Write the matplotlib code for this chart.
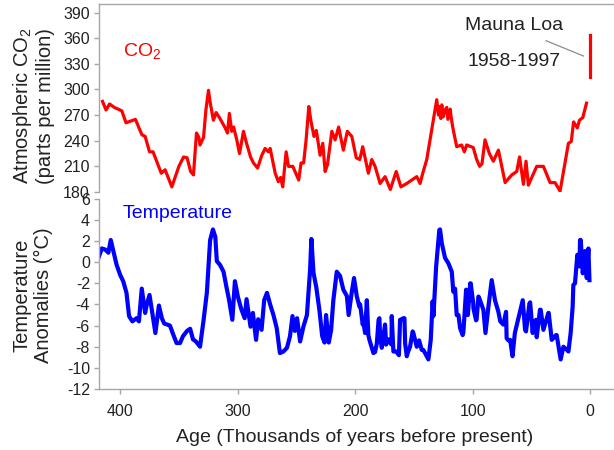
import matplotlib
matplotlib.use("Agg")
import numpy as np
import matplotlib.pyplot as plt
from matplotlib.lines import Line2D

plt.rcParams['font.family'] = ['Liberation Sans', 'DejaVu Sans']
plt.rcParams['mathtext.fontset'] = 'custom'
plt.rcParams['mathtext.rm'] = 'Liberation Sans'
plt.rcParams['mathtext.it'] = 'Liberation Sans'
plt.rcParams['mathtext.bf'] = 'Liberation Sans'
plt.rcParams['axes.unicode_minus'] = False

# ---------------- data ----------------
co2_age = [415, 412, 409, 405, 398.6, 395, 387, 381.5, 378.7, 375, 372, 365, 361.7, 356,
           350, 346, 343, 340, 337.6, 335, 333, 332, 329, 327, 324.8, 323.4, 320.6, 318.3,
           315, 310.6, 308.6, 307, 305, 303.4, 300.7, 298.4, 295, 292.8, 289, 286.5, 283,
           279.4, 276.6, 273.8, 272.3, 268, 265.3, 263.4, 261.6, 258.7, 256.7, 253, 248,
           246, 243.8, 241.7, 239.4, 237.7, 235, 233, 229.8, 227.5, 225.5, 223.5, 219.8,
           217, 214, 210, 206.6, 202.8, 199, 196, 193.5, 190.6, 188.7, 185.8, 183, 178.7,
           174.5, 170, 165, 161, 156, 147.5, 144.7, 142.4, 139, 130.5, 129, 128, 127,
           126.2, 125, 123.4, 122, 121, 119, 118.5, 116.9, 113.5, 109.3, 107, 105, 99.4,
           96.5, 94, 92, 89.4, 85.7, 82.3, 78, 72.3, 66.6, 62.4, 60, 56.7, 54.5, 52.5,
           45.4, 39.7, 34, 29.8, 25.5, 18.4, 16, 14, 10.8, 9, 6.2, 3]
co2_ppm = [286, 276, 283, 279, 275, 261, 265, 247, 245, 227, 227, 202, 206, 186,
           210, 221, 220, 204, 200, 249, 244, 235, 244, 276, 299, 285, 264, 273,
           266, 255, 249, 272, 251, 256, 241, 225, 251, 239, 221, 214, 208,
           223, 231, 227, 231, 202, 192, 197, 186, 227, 210, 210, 194,
           214, 214, 241, 280, 264, 245, 252, 223, 237, 204, 212, 251,
           241, 256, 229, 251, 245, 220, 218, 233, 214, 202, 218, 210, 190,
           198, 183, 204, 186, 190, 198, 190, 202, 218, 288, 270, 280, 266,
           282, 268, 276, 279, 265, 277, 270, 256, 233, 235, 227, 235, 232,
           218, 210, 213, 241, 225, 216, 229, 191, 200, 204, 221, 189, 216, 188,
           210, 210, 191, 191, 181, 237, 239, 262, 255, 264, 267, 284]

temp_age = [418.5, 415.6, 412.8, 410, 408, 405.7, 403, 400, 397.4, 394.6, 392.4, 389.6,
            386, 384, 381.6, 378.7, 377.3, 375, 372.6, 370, 367, 364.5, 362.5, 360,
            357.6, 355.3, 352, 349, 346.5, 343, 340.4, 338, 335.5, 332, 329, 326.2,
            323.4, 321, 319, 317.7, 315, 312, 309.6, 307.4, 304.5, 302.3, 299.7, 297,
            294, 292.4, 289, 287, 284.3, 282.5, 279.6, 277.4, 275, 272.3, 269.5, 266.7,
            264, 261, 258, 255.4, 253.3, 251.3, 249.4, 246.8, 244, 241, 238.3, 237.2,
            235.4, 233, 230.4, 228, 226, 224.7, 222.4, 220.4, 218.5, 215.6, 212.8, 210,
            207, 205.5, 202.8, 200.9, 198.6, 196.4, 195.7, 193.5, 193, 191.5, 190, 188.7,
            187.8, 184.4, 183, 181.5, 180, 179.3, 178.7, 177.3, 174.5, 173.6, 171.7,
            169, 168.8, 167.4, 165, 162.7, 161.7, 161, 159, 158, 157.4, 156, 155, 153.2,
            151, 150.4, 147.5, 145.5, 143.3, 142, 140.4, 137.6, 135.6, 134, 133.3, 131,
            129, 128.3, 127.7, 126.2, 123.4, 120.6, 117.7, 116.4, 114.9, 113.5, 112,
            110.6, 108.4, 107.8, 105.5, 104, 102, 101.6, 99.4, 99.3, 97, 96.6, 95, 94.3,
            90.8, 89, 86.5, 83.7, 80.9, 78, 76.4, 73.8, 71.5, 71, 69.5, 68, 66, 64, 61.3,
            57.3, 55.3, 54.5, 51.6, 51, 48.8, 48.2, 46, 45.4, 42.6, 42, 39.7, 35.5, 35.2,
            32.6, 29, 28.4, 25.5, 25, 22.7, 19.6, 18.4, 16.5, 14.8, 14.2, 12.8, 10.8,
            9, 8.5, 7.9, 6.2, 4.3, 2.8, 1.4, 0.5]
temp_anom = [0.4, 1.3, 1.2, 0.9, 2.1, 1.0, -0.25, -1.2, -1.8, -2.9, -5.1, -5.6,
             -5.3, -5.6, -2.5, -4.8, -4.0, -3.1, -4.8, -6.7, -4.1, -5.3, -5.8, -5.9,
             -6.0, -6.7, -7.65, -7.65, -7.0, -6.5, -6.3, -7.3, -7.5, -8.0, -5.5, -2.9,
             2.1, 3.1, 2.4, 0.1, -0.25, -0.9, -2.3, -3.5, -5.45, -1.8, -3.3, -4.4,
             -5.3, -3.5, -6.1, -4.8, -7.35, -5.4, -6.4, -3.6, -2.9, -4.0, -5.0, -6.25,
             -8.6, -8.45, -8.1, -7.0, -5.1, -6.5, -5.3, -7.5, -6.1, -5.0, -0.7, 2.2,
             -1.0, -2.4, -4.5, -7.0, -7.6, -5.0, -7.6, -6.4, -3.6, -0.9, -1.3, -2.6,
             -3.2, -5.0, -2.8, -1.5, -3.2, -4.2, -4.0, -5.9, -5.6, -6.7, -3.6, -6.9,
             -7.35, -8.6, -8.5, -7.7, -5.45, -5.3, -7.0, -8.1, -5.9, -7.8, -7.3,
             -7.8, -5.1, -8.45, -8.45, -8.8, -5.45, -5.45, -5.3, -5.3, -7.7, -8.9, -8.5, -8.0,
             -6.55, -6.7, -8.0, -7.4, -8.3, -8.3, -8.6, -9.2, -7.35, -3.7, -5.1, -0.4,
             2.1, 3.05, 3.1, 1.8, 0.4, -0.1, -0.9, -2.8, -2.5, -5.0, -5.0,
             -6.25, -6.9, -6.6, -2.6, -5.0, -2.0, -2.0, -3.9, -4.35, -5.5, -5.45, -3.25, -3.4,
             -4.5, -6.7, -4.2, -1.7, -3.6, -4.7, -5.6, -5.9, -4.7, -7.2, -7.4, -7.35, -8.9, -6.7, -5.45,
             -3.6, -6.4, -6.55, -3.9, -3.8, -6.7, -5.8, -5.45, -7.1, -4.5, -4.5, -6.4, -4.8, -4.8,
             -7.35, -6.9, -6.9, -8.9, -9.2, -8.0, -8.3, -8.45, -6.7, -4.2, -2.15, -2.0, 0.7,
             -0.4, 2.1, 2.1, -1.05, 1.05, -1.5, 1.3, -1.7]

mauna_loa_age = [0, 0]
mauna_loa_ppm = [315, 364]

co2_ticks = [180, 210, 240, 270, 300, 330, 360, 390]
temp_ticks = [-12, -10, -8, -6, -4, -2, 0, 2, 4, 6]
age_ticks = [400, 300, 200, 100, 0]

# ---------------- figure ----------------
W, H = 614, 450
fig = plt.figure(figsize=(W / 100, H / 100), dpi=100)

def box(x0, y0, x1, y1):
    return [x0 / W, 1 - y1 / H, (x1 - x0) / W, (y1 - y0) / H]

spine_c = '#a6a6a6'
text_c = '#222222'
xlim = (418, -20.4)

ax1 = fig.add_axes(box(99, 4, 614, 192))
ax2 = fig.add_axes(box(99, 198.8, 614, 389))

for ax in (ax1, ax2):
    ax.set_facecolor('none')
    ax.set_xlim(*xlim)
    for s in ax.spines.values():
        s.set_color(spine_c)
        s.set_linewidth(1.0)
    ax.spines['right'].set_visible(False)
    ax.tick_params(colors=spine_c, labelcolor=text_c, labelsize=11.5,
                   direction='out', length=3.5, width=1.0, pad=3)

# top: CO2
ax1.plot(co2_age, co2_ppm, color='#ff0000', lw=2.3, solid_joinstyle='round')
ax1.plot(mauna_loa_age, mauna_loa_ppm, color='#ff0000', lw=2.3)
ax1.set_ylim(180, 400)
ax1.set_yticks(co2_ticks)
ax1.spines['bottom'].set_visible(False)
ax1.tick_params(axis='x', bottom=False, labelbottom=False)

# bottom: temperature (sorted by age so that the readings form one trace)
order = np.argsort(temp_age)[::-1]
ax2.plot(np.asarray(temp_age)[order], np.asarray(temp_anom)[order], color='#0000ff',
         lw=3.0, solid_joinstyle='round')
ax2.set_ylim(-12, 6)
ax2.set_yticks(temp_ticks)
ax2.set_xticks(age_ticks)
ax2.spines['top'].set_visible(False)
ax2.tick_params(axis='x', pad=7)

# labels
fig.text(33 / W, 1 - 106 / H, 'Atmospheric CO$_2$\n(parts per million)', rotation=90,
         ha='center', va='center', multialignment='center', fontsize=14.5, color=text_c,
         linespacing=1.15)
fig.text(33 / W, 1 - 295 / H, 'Temperature\nAnomalies (\u00b0C)', rotation=90,
         ha='center', va='center', multialignment='center', fontsize=14.5, color=text_c,
         linespacing=1.15)
fig.text(355 / W, 1 - 438 / H, 'Age (Thousands of years before present)',
         ha='center', va='center', fontsize=14, color=text_c)

fig.text(123 / W, 1 - 51 / H, 'CO$_2$', ha='left', va='center', fontsize=14, color='#ff0000')
fig.text(123 / W, 1 - 213 / H, 'Temperature', ha='left', va='center', fontsize=14,
         color='#0000ff')
fig.text(514 / W, 1 - 25 / H, 'Mauna Loa', ha='center', va='center', fontsize=14, color=text_c)
fig.text(514 / W, 1 - 62 / H, '1958-1997', ha='center', va='center', fontsize=14, color=text_c)
fig.add_artist(Line2D([546 / W, 583.5 / W], [1 - 40.7 / H, 1 - 56 / H], color='#8c8c8c',
                      lw=0.9, transform=fig.transFigure))

fig.savefig('out.png', dpi=100)
